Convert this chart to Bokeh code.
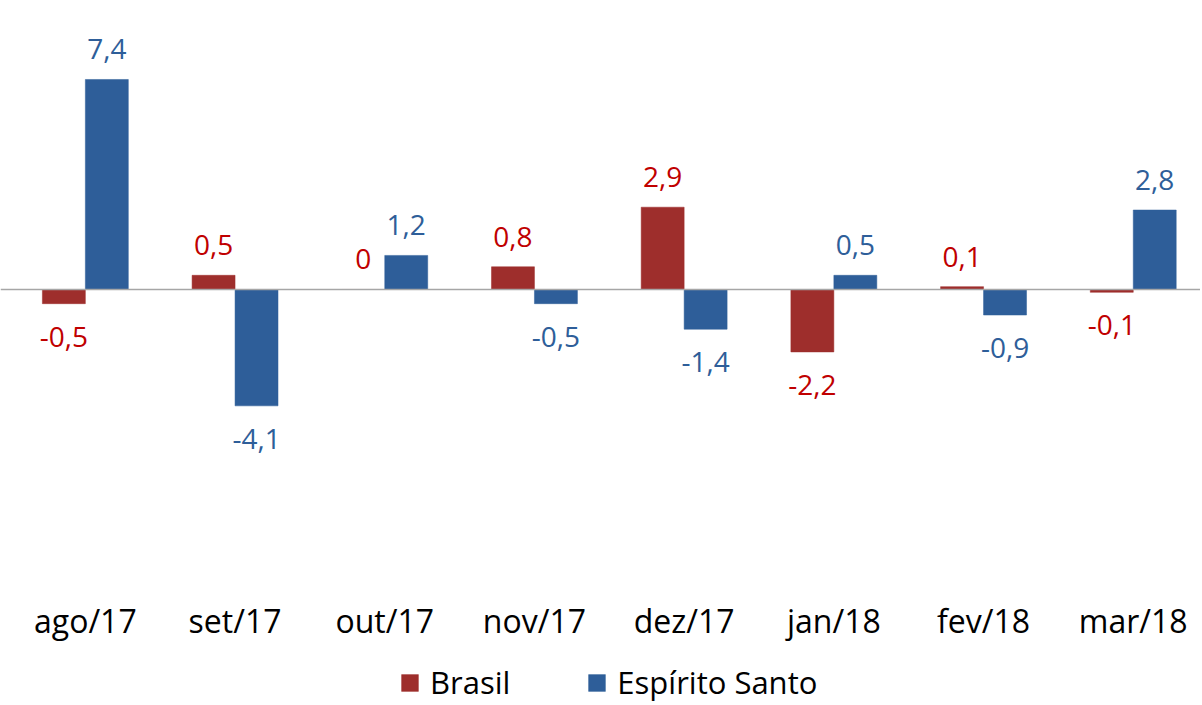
from bokeh.plotting import figure
from bokeh.models import (ColumnDataSource, Span, Legend, LegendItem, FixedTicker,
                          LinearAxis, Range1d)
from bokeh.core.properties import value
from bokeh.embed import file_html
from bokeh.resources import INLINE

months = ["ago/17", "set/17", "out/17", "nov/17", "dez/17", "jan/18", "fev/18", "mar/18"]
brasil = [-0.5, 0.5, 0.0, 0.8, 2.9, -2.2, 0.1, -0.1]
espirito_santo = [7.4, -4.1, 1.2, -0.5, -1.4, 0.5, -0.9, 2.8]
series_names = ["Brasil", "Espírito Santo"]

BAR_RED = "#9E2E2C"
BAR_BLUE = "#2E5E99"
LBL_RED = "#C00000"
LBL_BLUE = "#2E5E99"
FONT = "Open Sans"

W, H = 1200, 703
p = figure(width=W, height=H, output_backend="svg", toolbar_location=None,
           x_range=Range1d(-0.0668, 7.9492), y_range=Range1d(-14.588, 10.183),
           min_border=0, x_axis_type=None, y_axis_type=None,
           outline_line_color=None, background_fill_color="white",
           border_fill_color="white")
p.grid.visible = False

centers = [i + 0.5 for i in range(len(months))]
bw = 0.287
xb = [c - bw / 2 for c in centers]
xe = [c + bw / 2 for c in centers]

src_b = ColumnDataSource(dict(x=xb, top=brasil))
src_e = ColumnDataSource(dict(x=xe, top=espirito_santo))
rb = p.vbar(x="x", top="top", bottom=0, width=bw, source=src_b,
            fill_color=BAR_RED, line_color=BAR_RED, line_width=0.5)
re_ = p.vbar(x="x", top="top", bottom=0, width=bw, source=src_e,
             fill_color=BAR_BLUE, line_color=BAR_BLUE, line_width=0.5)

p.add_layout(Span(location=0, dimension="width", line_color="#A6A6A6", line_width=1.5))


def fmt(v):
    return "0" if v == 0 else f"{v:.1f}".replace(".", ",")


lx, ly, lt, lc, lo = [], [], [], [], []
for xs, vals, col in ((xb, brasil, LBL_RED), (xe, espirito_santo, LBL_BLUE)):
    for x, v in zip(xs, vals):
        lx.append(x)
        ly.append(v)
        lt.append(fmt(v))
        lc.append(col)
        lo.append(-30 if v >= 0 else 33)
src_l = ColumnDataSource(dict(x=lx, y=ly, text=lt, color=lc, yoff=lo))
p.text(x="x", y="y", text="text", source=src_l, text_align="center",
       text_baseline="middle", y_offset="yoff", text_color="color",
       text_font=value(FONT), text_font_size="28px")

ax = LinearAxis(ticker=FixedTicker(ticks=centers),
                major_label_overrides={c: m for c, m in zip(centers, months)},
                fixed_location=-10.71,
                axis_line_color=None, major_tick_line_color=None,
                minor_tick_line_color=None, major_label_standoff=0,
                major_label_text_font=FONT, major_label_text_font_size="32px",
                major_label_text_color="black")
p.add_layout(ax, "below")

legend = Legend(items=[LegendItem(label=series_names[0], renderers=[rb]),
                       LegendItem(label=series_names[1], renderers=[re_])],
                location=(399, 0), orientation="horizontal",
                glyph_width=21, glyph_height=21, label_standoff=10, spacing=76,
                padding=0, margin=0, border_line_color=None,
                background_fill_alpha=0, label_text_font=FONT,
                label_text_font_size="31px", label_text_color="black")
p.add_layout(legend)

open("out.html", "w").write(file_html(p, INLINE))
